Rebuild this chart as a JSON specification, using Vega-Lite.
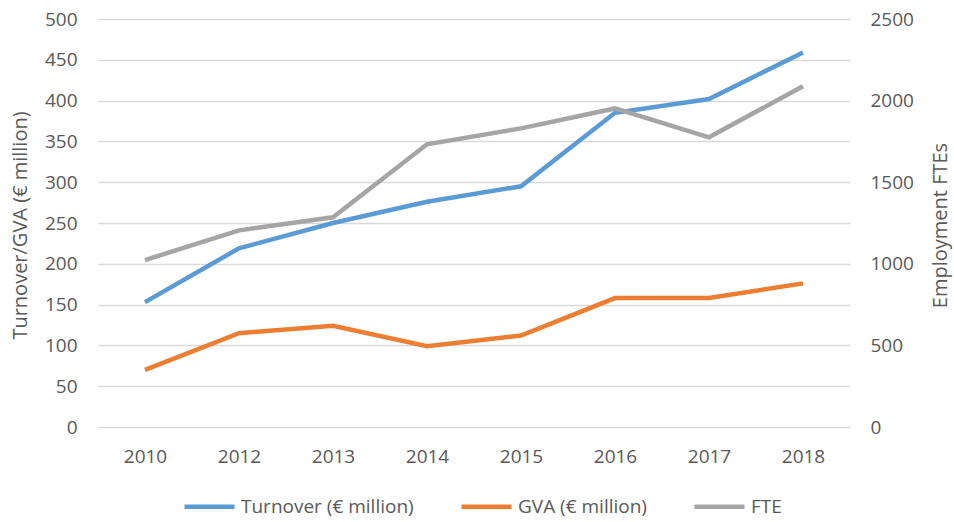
{
  "$schema": "https://vega.github.io/schema/vega-lite/v6.json",
  "width": 752,
  "height": 408,
  "autosize": {"type": "none"},
  "padding": {"left": 98, "top": 19, "right": 104, "bottom": 95},
  "background": "white",
  "config": {
    "view": {"stroke": null},
    "font": "Open Sans",
    "axis": {"labelFont": "Open Sans", "titleFont": "Open Sans", "labelColor": "#595959", "titleColor": "#595959", "labelFontSize": 19, "titleFontSize": 20, "titleFontWeight": "normal"},
    "legend": {"labelFont": "Open Sans", "labelColor": "#595959", "labelFontSize": 19}
  },
  "data": {
    "values": [
      {"year": "2010", "series": "Turnover (€ million)", "value": 153},
      {"year": "2012", "series": "Turnover (€ million)", "value": 219},
      {"year": "2013", "series": "Turnover (€ million)", "value": 250},
      {"year": "2014", "series": "Turnover (€ million)", "value": 276},
      {"year": "2015", "series": "Turnover (€ million)", "value": 295},
      {"year": "2016", "series": "Turnover (€ million)", "value": 385},
      {"year": "2017", "series": "Turnover (€ million)", "value": 402},
      {"year": "2018", "series": "Turnover (€ million)", "value": 459},
      {"year": "2010", "series": "GVA (€ million)", "value": 70},
      {"year": "2012", "series": "GVA (€ million)", "value": 115},
      {"year": "2013", "series": "GVA (€ million)", "value": 124},
      {"year": "2014", "series": "GVA (€ million)", "value": 99},
      {"year": "2015", "series": "GVA (€ million)", "value": 112},
      {"year": "2016", "series": "GVA (€ million)", "value": 158},
      {"year": "2017", "series": "GVA (€ million)", "value": 158},
      {"year": "2018", "series": "GVA (€ million)", "value": 176},
      {"year": "2010", "series": "FTE", "value": 1023},
      {"year": "2012", "series": "FTE", "value": 1205},
      {"year": "2013", "series": "FTE", "value": 1285},
      {"year": "2014", "series": "FTE", "value": 1732},
      {"year": "2015", "series": "FTE", "value": 1830},
      {"year": "2016", "series": "FTE", "value": 1952},
      {"year": "2017", "series": "FTE", "value": 1775},
      {"year": "2018", "series": "FTE", "value": 2088}
    ]
  },
  "encoding": {
    "x": {
      "field": "year", "type": "ordinal",
      "scale": {"type": "point", "padding": 0.5},
      "axis": {"title": null, "labelAngle": 0, "ticks": false, "domain": false, "grid": false, "labelPadding": 20}
    },
    "color": {
      "field": "series", "type": "nominal",
      "scale": {"domain": ["Turnover (€ million)", "GVA (€ million)", "FTE"], "range": ["#5B9BD5", "#ED7D31", "#A5A5A5"]},
      "legend": {"orient": "none", "legendX": 84, "legendY": 460, "direction": "horizontal", "title": null, "symbolType": "stroke", "symbolSize": 2500, "symbolStrokeWidth": 4.5, "columnPadding": 38, "labelOffset": 4, "labelLimit": 0}
    }
  },
  "layer": [
    {
      "transform": [{"filter": "datum.series !== 'FTE'"}],
      "mark": {"type": "line", "strokeWidth": 4.5},
      "encoding": {
        "y": {
          "field": "value", "type": "quantitative",
          "scale": {"domain": [0, 500], "nice": false},
          "axis": {"title": "Turnover/GVA (€ million)", "values": [0, 50, 100, 150, 200, 250, 300, 350, 400, 450, 500], "grid": true, "gridColor": "#D9D9D9", "gridWidth": 1.5, "domain": false, "ticks": false, "labelPadding": 21, "titleX": -78, "titleY": 206, "titleAngle": -90, "titleAlign": "center", "titleBaseline": "middle"}
        }
      }
    },
    {
      "transform": [{"filter": "datum.series === 'FTE'"}],
      "mark": {"type": "line", "strokeWidth": 4.5},
      "encoding": {
        "y": {
          "field": "value", "type": "quantitative",
          "scale": {"domain": [0, 2500], "nice": false},
          "axis": {"title": "Employment FTEs", "orient": "right", "format": "d", "values": [0, 500, 1000, 1500, 2000, 2500], "grid": false, "domain": false, "ticks": false, "labelPadding": 20, "titleX": 90, "titleY": 206, "titleAngle": -90, "titleAlign": "center", "titleBaseline": "middle"}
        }
      }
    }
  ],
  "resolve": {"scale": {"y": "independent"}}
}
